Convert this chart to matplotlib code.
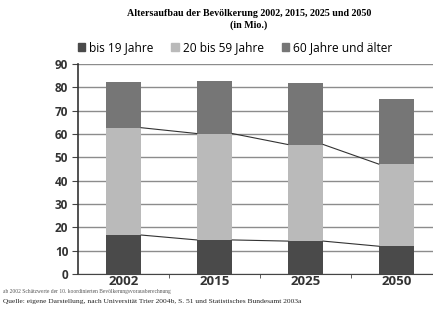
import numpy as np
import matplotlib.pyplot as plt

years = ['2002', '2015', '2025', '2050']
bis_19 = [16.7, 14.6, 14.1, 11.9]
mitte_20_59 = [46.0, 45.6, 41.4, 35.2]
ab_60 = [19.4, 22.7, 26.4, 28.1]
series_labels = ['bis 19 Jahre', '20 bis 59 Jahre', '60 Jahre und älter']
colors = ['#4a4a4a', '#bababa', '#767676']
y_ticks = [0, 10, 20, 30, 40, 50, 60, 70, 80, 90]

fig = plt.figure(figsize=(4.33, 3.09), dpi=100)
W, H = 433, 309
# axes spans from x=78 to ~442 px (right side cut off like in the scan)
ax = fig.add_axes([78 / W, (H - 274) / H, (442 - 78) / W, (274 - 64) / H])

x = np.arange(len(years))
width = 0.39
b1 = np.array(bis_19)
b2 = b1 + np.array(mitte_20_59)
ax.bar(x, bis_19, width, color=colors[0], zorder=3)
ax.bar(x, mitte_20_59, width, bottom=b1, color=colors[1], zorder=3)
ax.bar(x, ab_60, width, bottom=b2, color=colors[2], zorder=3)

# series lines between bars
for top in (b1, b2):
    for i in range(len(years) - 1):
        ax.plot([x[i] + width / 2, x[i + 1] - width / 2], [top[i], top[i + 1]],
                color='#333333', lw=0.8, zorder=4)

ax.set_xlim(-0.5, len(years) - 0.5)
ax.set_ylim(0, 90)
ax.set_yticks(y_ticks)
ax.yaxis.grid(True, color='#8c8c8c', lw=1.0, zorder=0)
ax.set_xticks(x)
ax.set_xticklabels(years, fontsize=9.5, fontweight='bold', color='#333333', family='Open Sans')
ax.set_xticks(x[:-1] + 0.5, minor=True)
ax.tick_params(axis='x', which='major', length=0, pad=1)
ax.tick_params(axis='x', which='minor', length=3, direction='out', color='#444444')
ax.tick_params(axis='y', length=4, direction='out', color='#444444', labelsize=8.5, pad=3)
for lbl in ax.get_yticklabels():
    lbl.set_fontweight('bold')
    lbl.set_color('#333333')
    lbl.set_family('Open Sans')
for s in ['top', 'right']:
    ax.spines[s].set_visible(False)
ax.spines['left'].set_color('#333333')
ax.spines['bottom'].set_color('#444444')
ax.spines['left'].set_linewidth(1.2)

fig.text(249 / W, 1 - 14 / H, 'Altersaufbau der Bevölkerung 2002, 2015, 2025 und 2050',
         ha='center', va='center', fontsize=7.2, fontweight='bold', family='Liberation Serif')
fig.text(249 / W, 1 - 25 / H, '(in Mio.)', ha='center', va='center', fontsize=7.2,
         fontweight='bold', family='Liberation Serif')

handles = [plt.Rectangle((0, 0), 1, 1, color=c) for c in colors]
fig.legend(handles, series_labels, loc='center', bbox_to_anchor=(235 / W, 1 - 48 / H),
           ncol=3, frameon=False, handlelength=0.6, handleheight=0.6,
           handletextpad=0.35, columnspacing=1.5,
           prop={'family': 'Open Sans', 'size': 8.6})

fig.text(3 / W, 1 - 292 / H, 'ab 2002 Schätzwerte der 10. koordinierten Bevölkerungsvorausberechnung',
         ha='left', va='center', fontsize=4, color='#555555', family='Liberation Serif')
fig.text(3 / W, 1 - 301 / H,
         'Quelle: eigene Darstellung, nach Universität Trier 2004b, S. 51 und Statistisches Bundesamt 2003a',
         ha='left', va='center', fontsize=5.4, color='#222222', family='Liberation Serif')

fig.savefig('out.png', dpi=100)
